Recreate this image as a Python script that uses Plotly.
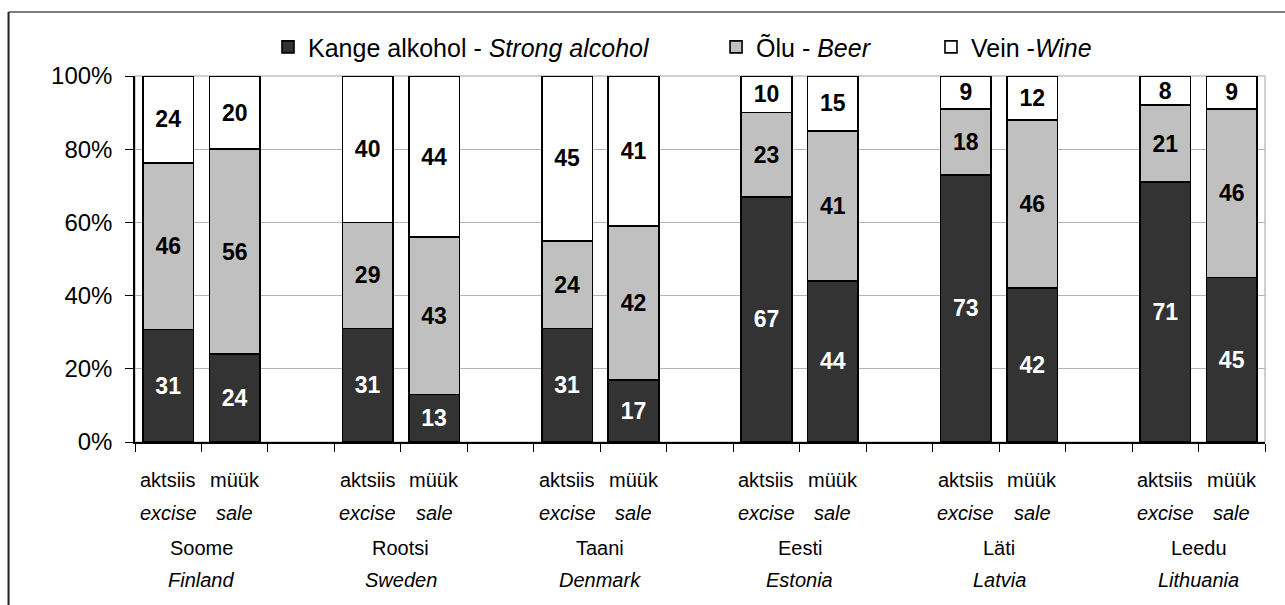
import plotly.graph_objects as go

# Country names (Estonian / English)
countries_et = ["Soome", "Rootsi", "Taani", "Eesti", "Läti", "Leedu"]
countries_en = ["Finland", "Sweden", "Denmark", "Estonia", "Latvia", "Lithuania"]

# Bar sub-labels
bar_labels_et = ["aktsiis", "müük"]
bar_labels_en = ["excise", "sale"]

# Shares (%) by beverage type: excise revenue vs. sales
strong_excise = [31, 31, 31, 67, 73, 71]
strong_sale = [24, 13, 17, 44, 42, 45]
beer_excise = [46, 29, 24, 23, 18, 21]
beer_sale = [56, 43, 42, 41, 46, 46]
wine_excise = [24, 40, 45, 10, 9, 8]
wine_sale = [20, 44, 41, 15, 12, 9]

y_ticks = [0, 20, 40, 60, 80, 100]
y_tick_labels = ["0%", "20%", "40%", "60%", "80%", "100%"]

FONT = "Arial, 'Liberation Sans', sans-serif"

# two bars per country, then an empty slot
x_pos = []
for g in range(len(countries_et)):
    x_pos += [3 * g, 3 * g + 1]


def interleave(a, b):
    out = []
    for u, v in zip(a, b):
        out += [u, v]
    return out


series = [
    ("Kange alkohol - <i>Strong alcohol</i>", interleave(strong_excise, strong_sale), "#333333", "white", "legend"),
    ("Õlu - <i>Beer</i>", interleave(beer_excise, beer_sale), "#c0c0c0", "black", "legend2"),
    ("Vein -<i>Wine</i>", interleave(wine_excise, wine_sale), "#ffffff", "black", "legend3"),
]

fig = go.Figure()
for name, vals, color, tcolor, leg in series:
    fig.add_trace(go.Bar(
        x=x_pos, y=vals, name=name, width=0.76,
        marker=dict(color=color, line=dict(color="black", width=1.6)),
        text=[str(v) for v in vals],
        textposition="inside", insidetextanchor="middle", textangle=0,
        constraintext="none",
        textfont=dict(family=FONT, size=23, color=tcolor, weight="bold"),
        legend=leg,
    ))

n_slots = 3 * len(countries_et) - 1
boundaries = [i - 0.5 for i in range(n_slots + 1)]

annotations = []
for i, xp in enumerate(x_pos):
    k = i % 2
    annotations.append(dict(x=xp, y=0, xref="x", yref="paper", yanchor="middle",
                            yshift=-38, showarrow=False, text=bar_labels_et[k],
                            font=dict(family=FONT, size=20, color="black")))
    annotations.append(dict(x=xp, y=0, xref="x", yref="paper", yanchor="middle",
                            yshift=-71, showarrow=False, text="<i>%s</i>" % bar_labels_en[k],
                            font=dict(family=FONT, size=20, color="black")))
for g in range(len(countries_et)):
    xc = 3 * g + 0.5
    annotations.append(dict(x=xc, y=0, xref="x", yref="paper", yanchor="middle",
                            yshift=-106, showarrow=False, text=countries_et[g],
                            font=dict(family=FONT, size=20, color="black")))
    annotations.append(dict(x=xc, y=0, xref="x", yref="paper", yanchor="middle",
                            yshift=-138, showarrow=False, text="<i>%s</i>" % countries_en[g],
                            font=dict(family=FONT, size=20, color="black")))

leg_common = dict(orientation="h", xanchor="left", yanchor="middle", y=1.079,
                  bgcolor="rgba(0,0,0,0)", font=dict(family=FONT, size=25, color="black"),
                  itemclick=False, itemdoubleclick=False)

fig.update_layout(
    width=1285, height=605,
    margin=dict(l=135, r=20, t=76, b=163),
    paper_bgcolor="white", plot_bgcolor="white",
    barmode="stack", barnorm="percent",
    font=dict(family=FONT, color="black"),
    showlegend=True,
    legend=dict(x=0.1177, **leg_common),
    legend2=dict(x=0.5142, **leg_common),
    legend3=dict(x=0.7044, **leg_common),
    xaxis=dict(range=[-0.5, n_slots - 0.5], tickvals=boundaries, showticklabels=False,
               ticks="outside", ticklen=8, tickcolor="black", tickwidth=1,
               showline=True, linecolor="black", linewidth=1.5,
               showgrid=False, zeroline=False, fixedrange=True),
    yaxis=dict(range=[0, 100], tickvals=y_ticks, ticktext=y_tick_labels,
               ticks="outside", ticklen=8, tickcolor="black", tickwidth=1,
               ticklabelstandoff=8,
               tickfont=dict(family=FONT, size=24, color="black"),
               showline=True, linecolor="black", linewidth=1.5,
               showgrid=True, gridcolor="#b4b4b4", gridwidth=1,
               zeroline=False, fixedrange=True),
    annotations=annotations,
    shapes=[
        # plot-area frame
        dict(type="rect", xref="paper", yref="paper", x0=0, x1=1, y0=0, y1=1,
             line=dict(color="#a0a0a0", width=1), layer="below"),
        # outer chart frame
        dict(type="line", xref="paper", yref="paper", x0=-0.1119, x1=1.05, y0=1.1749, y1=1.1749,
             line=dict(color="#555555", width=1.5)),
        dict(type="line", xref="paper", yref="paper", x0=-0.1119, x1=-0.1119, y0=-0.5, y1=1.1749,
             line=dict(color="#222222", width=2)),
    ],
)

fig.write_html("out.html")
